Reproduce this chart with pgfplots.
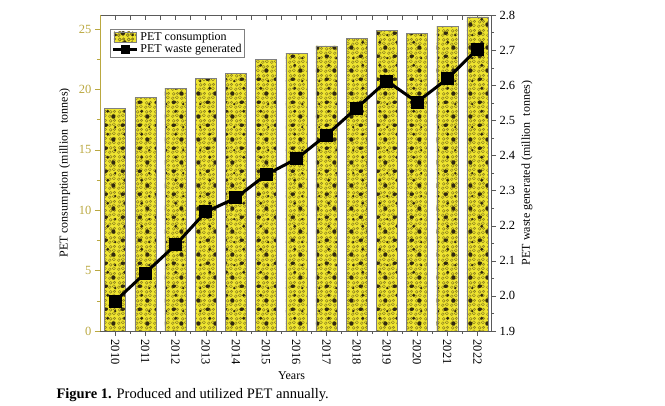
\documentclass[border=0pt]{standalone}
\usepackage{fontspec}
\setmainfont{Liberation Serif}
\usepackage{pgfplots}
\pgfplotsset{compat=1.18}
\usetikzlibrary{patterns}
\definecolor{barfill}{RGB}{238,228,48}
\definecolor{olivax}{RGB}{186,168,64}
\definecolor{cellc}{RGB}{140,128,30}
\definecolor{speck}{RGB}{50,42,15}
\definecolor{axgray}{RGB}{90,90,90}
\pgfdeclarepatternformonly{cells}{\pgfqpoint{0pt}{0pt}}{\pgfqpoint{9pt}{9pt}}{\pgfqpoint{9pt}{9pt}}{%
  \pgfsetlinewidth{0.55pt}%
  \pgfpathcircle{\pgfqpoint{2pt}{2pt}}{1.5pt}%
  \pgfpathcircle{\pgfqpoint{6.5pt}{3pt}}{1.7pt}%
  \pgfpathcircle{\pgfqpoint{3pt}{6.8pt}}{1.6pt}%
  \pgfpathcircle{\pgfqpoint{7.2pt}{7.3pt}}{1.2pt}%
  \pgfusepath{stroke}}
\pgfdeclarepatternformonly{blobs}{\pgfqpoint{0pt}{0pt}}{\pgfqpoint{17pt}{23pt}}{\pgfqpoint{17pt}{23pt}}{%
  \pgfpathellipse{\pgfqpoint{4pt}{5pt}}{\pgfqpoint{2.4pt}{0.4pt}}{\pgfqpoint{-0.3pt}{1.8pt}}%
  \pgfpathellipse{\pgfqpoint{12pt}{14pt}}{\pgfqpoint{2.2pt}{-0.5pt}}{\pgfqpoint{0.4pt}{2.3pt}}%
  \pgfpathcircle{\pgfqpoint{6pt}{19.5pt}}{1.7pt}%
  \pgfpathcircle{\pgfqpoint{14pt}{3pt}}{1.3pt}%
  \pgfusepath{fill}}
\pgfplotsset{
  barlegend/.style={legend image code/.code={\draw[draw=gray, fill=barfill,
     postaction={pattern=cells, pattern color=cellc},
     postaction={pattern=blobs, pattern color=speck}] (0pt,-5pt) rectangle (22pt,5pt);}},
  linelegend/.style={legend image code/.code={\draw[black, line width=3pt] (-1pt,0pt) -- (23pt,0pt);
     \path[black, mark=square*, mark size=4pt] plot coordinates {(11pt,0pt)};}},
}
\begin{document}
\begin{tikzpicture}[x=1pt,y=1pt]
\path (0,0) rectangle (665,406);
\pgfplotsset{
  common/.style={
    at={(100pt,75pt)}, anchor=south west, scale only axis,
    width=391pt, height=316pt,
    xmin=-0.5, xmax=12.45,
    /pgf/number format/assume math mode=true,
    tick label style={font=\fontsize{12.5}{14}\selectfont},
    label style={font=\fontsize{12}{14}\selectfont},
  }
}
% top ticks (inward)
\begin{axis}[common, ymin=0, ymax=1,
  axis x line*=top, axis y line=none,
  xtick={-0.5,0,...,12.5}, xticklabels={},
  xtick align=inside, major tick length=5pt,
  x axis line style={axgray}, every tick/.style={axgray}]
\end{axis}
% bars
\begin{axis}[common,
  ymin=0, ymax=26.16,
  axis x line*=bottom, axis y line*=left,
  x axis line style={axgray},
  y axis line style={olivax},
  xtick={0,...,12},
  xticklabels={2010,2011,2012,2013,2014,2015,2016,2017,2018,2019,2020,2021,2022},
  minor xtick={0.5,1.5,...,11.5},
  xticklabel style={rotate=-90, anchor=west},
  xtick align=outside, ytick align=outside,
  major tick length=5pt, minor tick length=3pt,
  x tick style={axgray}, y tick style={olivax},
  ytick={0,5,...,25}, minor ytick={2.5,7.5,...,22.5},
  yticklabel style={text=olivax},
  xlabel={Years},
  xlabel style={at={(axis description cs:0.49,-0.142)}, anchor=center},
  ylabel={PET consumption (million\ \ tonnes)},
  ylabel style={at={(axis description cs:-0.09,0.5)}, anchor=center},
  legend style={at={(rel axis cs:0.026,0.956)}, anchor=north west,
    draw=gray, font=\fontsize{12}{13}\selectfont, inner sep=1pt,
    row sep=-1pt, cells={anchor=west}},
  legend cell align=left,
]
\addplot[ybar, bar width=21pt, draw=gray, fill=barfill,
  postaction={pattern=cells, pattern color=cellc},
  postaction={pattern=blobs, pattern color=speck},
  barlegend]
coordinates {(0,18.46) (1,19.35) (2,20.1) (3,20.9) (4,21.35) (5,22.5) (6,23.0) (7,23.6) (8,24.2) (9,24.9) (10,24.65) (11,25.2) (12,26.0)};
\addlegendentry{PET consumption}
\addlegendimage{linelegend}
\addlegendentry{PET waste generated}
\end{axis}
% line
\begin{axis}[common,
  ymin=1.9, ymax=2.8,
  axis x line=none, axis y line*=right,
  y axis line style={axgray}, y tick style={axgray},
  ytick align=outside,
  major tick length=5pt, minor tick length=3pt,
  ytick={1.9,2.0,...,2.8},
  yticklabel style={/pgf/number format/.cd, fixed, fixed zerofill, precision=1},
  minor ytick={1.95,2.05,...,2.75},
  ylabel={PET waste generated (million\ \ tonnes)},
  ylabel style={at={(axis description cs:1.092,0.5)}, anchor=center},
]
\addplot[black, line width=3pt, mark=square*, mark size=5pt]
coordinates {(0,1.985) (1,2.065) (2,2.145) (3,2.239) (4,2.279) (5,2.345) (6,2.39) (7,2.458) (8,2.535) (9,2.612) (10,2.552) (11,2.618) (12,2.703)};
\end{axis}
\node[anchor=west, font=\fontsize{14.5}{16}\selectfont] at (53,11) {\textbf{Figure 1.} Produced and utilized PET annually.};
\end{tikzpicture}
\end{document}
